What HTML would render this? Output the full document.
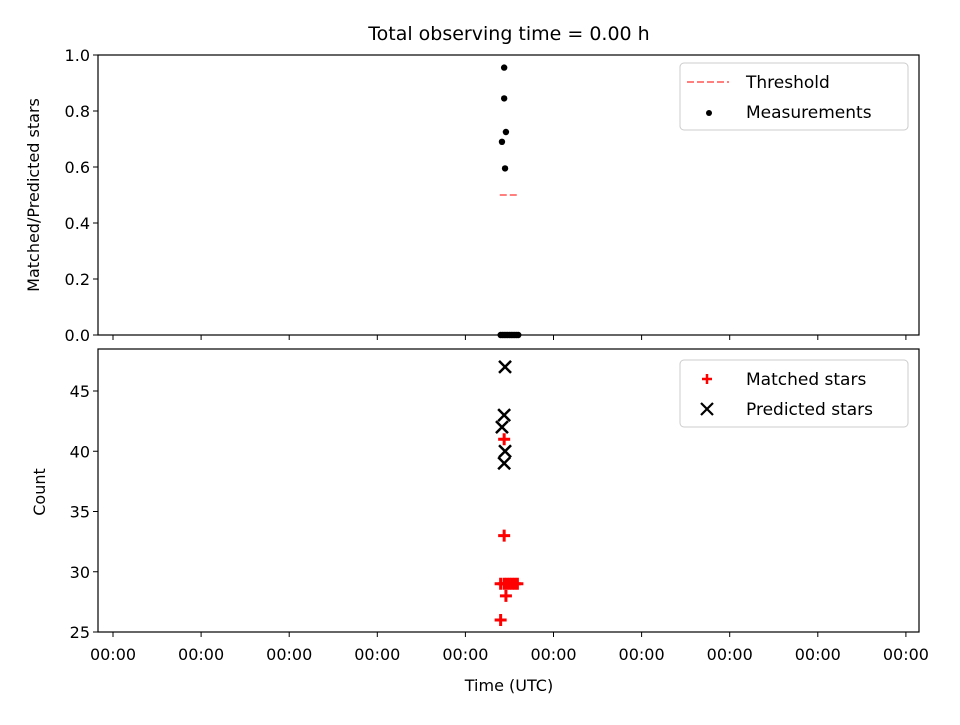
<!DOCTYPE html>
<html><head><meta charset="utf-8"><style>
body{margin:0;background:#fff}
svg{font-family:"DejaVu Sans","Liberation Sans",sans-serif}
</style></head><body>
<svg id="chart" width="960" height="720" viewBox="0 0 960 720">
<rect width="960" height="720" fill="#fff"/>
<text x="509" y="40" font-size="19" text-anchor="middle">Total observing time = 0.00 h</text>
<g id="topPanel"></g>
<g id="botPanel"></g>
<text x="509" y="691" font-size="16" text-anchor="middle">Time (UTC)</text>
<text transform="translate(39,195) rotate(-90)" font-size="16" text-anchor="middle">Matched/Predicted stars</text>
<text transform="translate(45,492) rotate(-90)" font-size="16" text-anchor="middle">Count</text>
</svg>
<script>
const xTicks=[0,1,2,3,4,5,6,7,8,9];
const xTickLabels=["00:00","00:00","00:00","00:00","00:00","00:00","00:00","00:00","00:00","00:00"];
const topYTicks=[0,0.2,0.4,0.6,0.8,1.0];
const botYTicks=[25,30,35,40,45];
const measT=[4.44,4.44,4.46,4.415,4.45,4.4,4.42,4.44,4.46,4.48,4.5,4.52,4.54,4.56,4.58,4.6];
const measV=[0.955,0.845,0.725,0.69,0.595,0,0,0,0,0,0,0,0,0,0,0];
const threshT=[4.39,4.61];
const threshV=[0.5,0.5];
const predT=[4.45,4.44,4.415,4.45,4.44];
const predV=[47,43,42,40,39];
const matchT=[4.44,4.44,4.4,4.44,4.47,4.5,4.53,4.56,4.59,4.46,4.4];
const matchV=[41,33,29,29,29,29,29,29,29,28,26];
const NS="http://www.w3.org/2000/svg";
function mk(p,t,a){const e=document.createElementNS(NS,t);for(const k in a)e.setAttribute(k,a[k]);p.appendChild(e);return e;}
const L=98,R=919;
const x=v=>113+v*88.1;
const yTop=v=>335-v*280;
const yBot=v=>632-(v-25)*12.05;
const topG=document.getElementById('topPanel'),botG=document.getElementById('botPanel');
function axes(g,y0,y1,ticks,yf,fmt,labels){
  for(const t of ticks){const yy=yf(t);
    const l=mk(g,'line',{x1:L-5,x2:L,y1:yy,y2:yy,stroke:'#000'});
    
    
    const tx=mk(g,'text',{x:L-8,y:yy+6,'font-size':16,'text-anchor':'end'});tx.textContent=fmt(t);
    
    }
  xTicks.forEach((t,i)=>{const xx=x(t);
    const l=mk(g,'line',{x1:xx,x2:xx,y1:y1,y2:y1+5,stroke:'#000'});
    
    
    if(labels){const tx=mk(g,'text',{x:xx,y:y1+28,'font-size':16,'text-anchor':'middle'});tx.textContent=xTickLabels[i];
      
      }});
}
axes(topG,55,335,topYTicks,yTop,v=>v.toFixed(1),false);
axes(botG,349,632,botYTicks,yBot,v=>String(v),true);
const th=mk(topG,'line',{x1:x(threshT[0]),x2:x(threshT[1]),y1:yTop(threshV[0]),y2:yTop(threshV[1]),stroke:'#ff7f7f','stroke-width':2,'stroke-dasharray':'7,3'});


measT.forEach((t,i)=>{const c=mk(topG,'circle',{cx:x(t),cy:yTop(measV[i]),r:3.2,fill:'#000'});
  
  });
matchT.forEach((t,i)=>{const cx=x(t),cy=yBot(matchV[i]);
  const p=mk(botG,'path',{d:`M${cx-6},${cy}H${cx+6}M${cx},${cy-6}V${cy+6}`,stroke:'#f00','stroke-width':3});
  
  });
predT.forEach((t,i)=>{const cx=x(t),cy=yBot(predV[i]);
  const p=mk(botG,'path',{d:`M${cx-6},${cy-6}L${cx+6},${cy+6}M${cx-6},${cy+6}L${cx+6},${cy-6}`,stroke:'#000','stroke-width':2.5});
  
  });
const f1=mk(topG,'rect',{x:L,y:55,width:R-L,height:280,fill:'none',stroke:'#000','stroke-width':1.2});


const f2=mk(botG,'rect',{x:L,y:349,width:R-L,height:283,fill:'none',stroke:'#000','stroke-width':1.2});


function legend(g,y,items){
  const bx=mk(g,'rect',{x:680,y:y,width:228,height:67,rx:4,fill:'#fff',stroke:'#ccc'});
  
  
  items.forEach((it,i)=>{const yy=y+19+i*30;
    it.draw(g,707,yy);
    const t=mk(g,'text',{x:746,y:yy+6,'font-size':17});t.textContent=it.label;
    
    });
}
legend(topG,63,[
 {label:'Threshold',draw:(g,cx,cy)=>mk(g,'line',{x1:cx-20,x2:cx+22,y1:cy,y2:cy,stroke:'#ff7f7f','stroke-width':2,'stroke-dasharray':'7,3'})},
 {label:'Measurements',draw:(g,cx,cy)=>mk(g,'circle',{cx:cx+2,cy:cy+1,r:3,fill:'#000'})}]);
legend(botG,360,[
 {label:'Matched stars',draw:(g,cx,cy)=>mk(g,'path',{d:`M${cx-5},${cy}H${cx+5}M${cx},${cy-5}V${cy+5}`,stroke:'#f00','stroke-width':2.5})},
 {label:'Predicted stars',draw:(g,cx,cy)=>mk(g,'path',{d:`M${cx-6},${cy-6}L${cx+6},${cy+6}M${cx-6},${cy+6}L${cx+6},${cy-6}`,stroke:'#000','stroke-width':2.2})}]);
</script>
</body></html>
